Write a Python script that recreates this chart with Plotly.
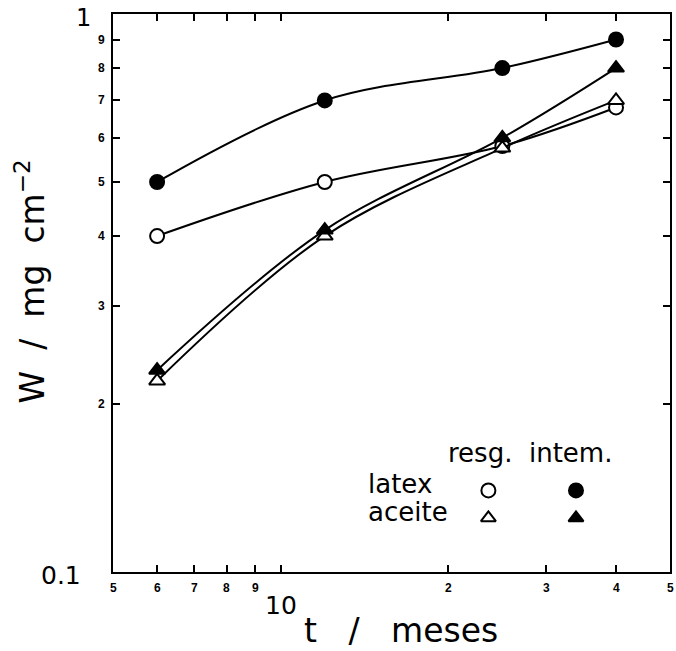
import math
import plotly.graph_objects as go

# ---- data ----
t_months = [6, 12, 25, 40]
latex_intem = [5.0, 7.0, 8.0, 9.0]
latex_resg = [4.0, 5.0, 5.8, 6.8]
aceite_resg = [2.2, 4.0, 5.75, 7.0]
aceite_intem = [2.3, 4.1, 6.0, 8.0]

x_tick_vals = [5, 6, 7, 8, 9, 20, 30, 40, 50]
x_tick_text = ["5", "6", "7", "8", "9", "2", "3", "4", "5"]
y_tick_vals = [2, 3, 4, 5, 6, 7, 8, 9]
y_tick_text = ["2", "3", "4", "5", "6", "7", "8", "9"]

legend_x = [23.6, 33.9]
legend_y_latex = [1.40, 1.40]
legend_y_aceite = [1.25, 1.25]

BIG = "DejaVu Sans"
SMALL = "Liberation Sans"
L = math.log10
X0, X1 = 5, 50

fig = go.Figure()

def series(y, symbol, fill):
    fig.add_trace(go.Scatter(
        x=t_months, y=y, mode="lines+markers",
        line=dict(color="black", width=2, shape="spline", smoothing=1),
        marker=dict(symbol=symbol, size=14,
                    color=fill, line=dict(color="black", width=2)),
        showlegend=False, cliponaxis=False, hoverinfo="skip"))

series(latex_resg, "circle", "white")
series(latex_intem, "circle", "black")
series(aceite_resg, "triangle-up", "white")
series(aceite_intem, "triangle-up", "black")

# legend keys
fig.add_trace(go.Scatter(x=legend_x, y=legend_y_latex, mode="markers",
    marker=dict(symbol="circle", size=14, color=["white", "black"],
                line=dict(color="black", width=2)), showlegend=False, hoverinfo="skip"))
fig.add_trace(go.Scatter(x=legend_x, y=legend_y_aceite, mode="markers",
    marker=dict(symbol="triangle-up", size=13, color=["white", "black"],
                line=dict(color="black", width=2)), showlegend=False, hoverinfo="skip"))

def xpaper(v):
    return (L(v) - L(X0)) / (L(X1) - L(X0))

ann = []
for v, s in zip(x_tick_vals, x_tick_text):
    ann.append(dict(x=xpaper(v), xref="paper", y=-0.012, yref="paper", text="<b>%s</b>" % s,
                    showarrow=False, xanchor="center", yanchor="top",
                    font=dict(family=SMALL, size=12, color="black")))
ann.append(dict(x=xpaper(10), xref="paper", y=-0.03, yref="paper", text="10",
                showarrow=False, xanchor="center", yanchor="top",
                font=dict(family=BIG, size=25, color="black")))
for v, s in zip(y_tick_vals, y_tick_text):
    ann.append(dict(x=-0.01, xref="paper", y=L(v), yref="paper", text="<b>%s</b>" % s,
                    showarrow=False, xanchor="right", yanchor="middle",
                    font=dict(family=SMALL, size=12, color="black")))
ann.append(dict(x=-0.036, xref="paper", y=0.993, yref="paper", text="1",
                showarrow=False, xanchor="right", yanchor="middle",
                font=dict(family=BIG, size=24, color="black")))
ann.append(dict(x=-0.053, xref="paper", y=-0.007, yref="paper", text="0.1",
                showarrow=False, xanchor="right", yanchor="middle",
                font=dict(family=BIG, size=25, color="black")))
# axis titles
ann.append(dict(x=0.517, xref="paper", y=-0.105, yref="paper", text="t   /   meses",
                showarrow=False, xanchor="center", yanchor="middle",
                font=dict(family=BIG, size=33, color="black")))
ann.append(dict(x=-0.148, xref="paper", y=0.52, yref="paper",
                text="W  /  mg  cm<sup>−2</sup>", textangle=-90,
                showarrow=False, xanchor="center", yanchor="middle",
                font=dict(family=BIG, size=33, color="black")))
# legend text
ann.append(dict(x=0.748, xref="paper", y=0.213, yref="paper", text="resg.  intem.",
                showarrow=False, xanchor="center", yanchor="middle",
                font=dict(family=BIG, size=26, color="black")))
ann.append(dict(x=0.455, xref="paper", y=0.157, yref="paper", text="latex",
                showarrow=False, xanchor="left", yanchor="middle",
                font=dict(family=BIG, size=26, color="black")))
ann.append(dict(x=0.455, xref="paper", y=0.107, yref="paper", text="aceite",
                showarrow=False, xanchor="left", yanchor="middle",
                font=dict(family=BIG, size=26, color="black")))

axis_common = dict(showgrid=False, zeroline=False, showline=True, linecolor="black",
                   linewidth=2, ticks="inside", ticklen=7, tickwidth=2,
                   tickcolor="black", mirror="ticks", showticklabels=False)

fig.update_layout(
    width=676, height=651,
    margin=dict(l=113, r=4, t=14, b=79),
    paper_bgcolor="white", plot_bgcolor="white",
    hovermode=False,
    xaxis=dict(type="log", range=[L(X0), L(X1)],
               tickvals=[6, 7, 8, 9, 10, 20, 30, 40], **axis_common),
    yaxis=dict(type="log", range=[0, 1],
               tickvals=[2, 3, 4, 5, 6, 7, 8, 9], **axis_common),
    annotations=ann,
)

fig.write_html("out.html", config={"displayModeBar": False},
               post_script="document.body.style.margin='0';document.body.style.overflow='hidden';")
